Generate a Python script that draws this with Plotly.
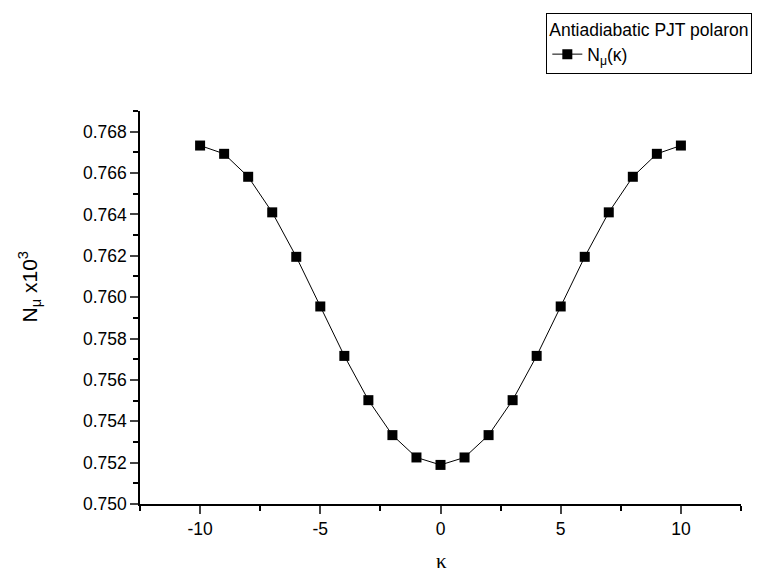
import plotly.graph_objects as go

kappa = [-10, -9, -8, -7, -6, -5, -4, -3, -2, -1, 0, 1, 2, 3, 4, 5, 6, 7, 8, 9, 10]
n_mu = [0.76733, 0.76693, 0.76582, 0.76410, 0.76195, 0.75955, 0.75716, 0.75502, 0.75333, 0.75225, 0.75189,
        0.75225, 0.75333, 0.75502, 0.75716, 0.75955, 0.76195, 0.76410, 0.76582, 0.76693, 0.76733]
x_tickvals = [-10, -5, 0, 5, 10]
x_ticktext = ["-10", "-5", "0", "5", "10"]

FONT = "Liberation Sans, Arial, sans-serif"
FS = 17.5

fig = go.Figure()
fig.add_trace(go.Scatter(
    x=kappa, y=n_mu, mode="lines+markers",
    name="N<sub>μ</sub>(κ)",
    line=dict(color="black", width=1),
    marker=dict(symbol="square", size=10, color="black", line=dict(width=0)),
))

fig.update_layout(
    width=764, height=580,
    margin=dict(l=140, r=22, t=105, b=76),
    paper_bgcolor="white", plot_bgcolor="white",
    font=dict(family=FONT, size=FS, color="black"),
    showlegend=True,
    legend=dict(
        x=(547 - 140) / 602, y=(504 - 5) / 399, xanchor="left", yanchor="top",
        bordercolor="black", borderwidth=1, bgcolor="white",
        title=dict(text="Antiadiabatic PJT polaron", font=dict(size=FS)),
        font=dict(size=FS),
    ),
    xaxis=dict(
        range=[-12.5, 12.5], tickvals=x_tickvals, ticktext=x_ticktext,
        ticks="outside", ticklen=8, tickwidth=1.5,
        showline=True, linecolor="black", linewidth=1.5, showgrid=False, zeroline=False,
        tickfont=dict(size=FS),
        minor=dict(dtick=2.5, tick0=0, ticks="outside", ticklen=5, tickwidth=1.5, tickcolor="black", showgrid=False),
    ),
    yaxis=dict(
        range=[0.750, 0.769], tick0=0.750, dtick=0.002, tickformat=".3f", ticks="outside", ticklen=8, tickwidth=1.5,
        showline=True, linecolor="black", linewidth=1.5, showgrid=False, zeroline=False,
        tickfont=dict(size=FS),
        minor=dict(dtick=0.001, tick0=0.750, ticks="outside", ticklen=5, tickwidth=1.5, tickcolor="black", showgrid=False),
    ),
    annotations=[
        dict(text="N<sub>μ</sub> x10<sup>3</sup>", textangle=-90, xref="paper", yref="paper",
             x=(29 - 140) / 602, y=(504 - 283) / 399, xanchor="center", yanchor="middle",
             showarrow=False, font=dict(size=21, family=FONT)),
        dict(text="κ", xref="paper", yref="paper",
             x=(442 - 140) / 602, y=(504 - 562) / 399, xanchor="center", yanchor="middle",
             showarrow=False, font=dict(size=21, family="Liberation Serif, Times New Roman, serif")),
    ],
)

fig.write_html("out.html")
